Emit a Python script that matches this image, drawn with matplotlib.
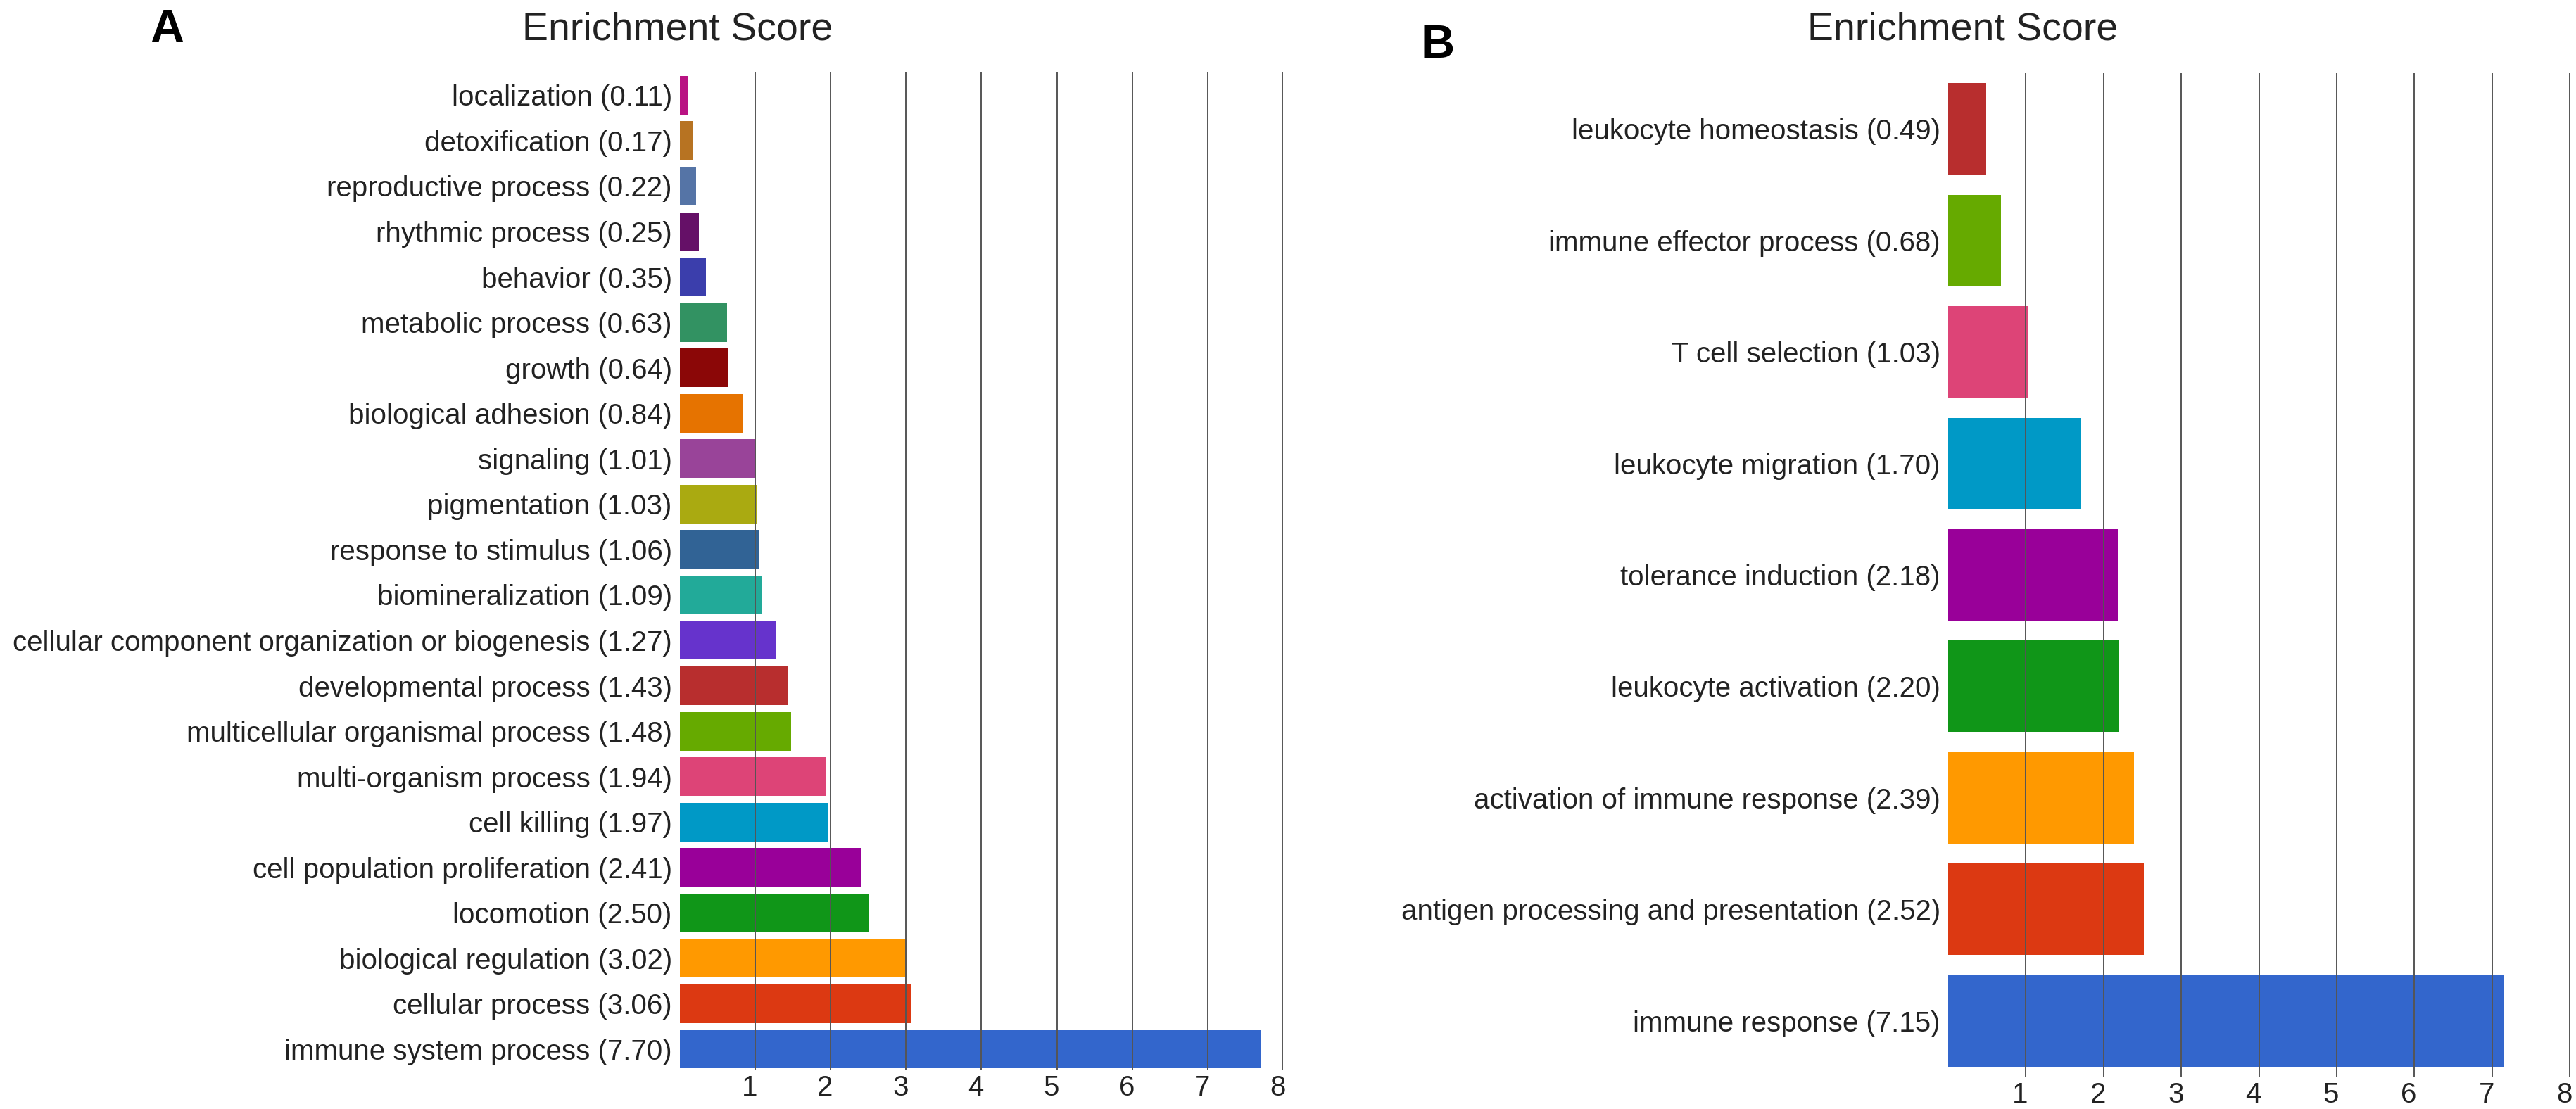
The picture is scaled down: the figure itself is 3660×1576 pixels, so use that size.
import matplotlib
matplotlib.use("Agg")
import matplotlib.pyplot as plt
import matplotlib.transforms as mtransforms

plt.rcParams['font.family'] = ['Liberation Sans', 'DejaVu Sans']

# panel A: GO biological process categories (top to bottom)
terms_a = [
    "localization", "detoxification", "reproductive process", "rhythmic process",
    "behavior", "metabolic process", "growth", "biological adhesion", "signaling",
    "pigmentation", "response to stimulus", "biomineralization",
    "cellular component organization or biogenesis", "developmental process",
    "multicellular organismal process", "multi-organism process", "cell killing",
    "cell population proliferation", "locomotion", "biological regulation",
    "cellular process", "immune system process",
]
scores_a = [0.11, 0.17, 0.22, 0.25, 0.35, 0.63, 0.64, 0.84, 1.01, 1.03, 1.06, 1.09,
            1.27, 1.43, 1.48, 1.94, 1.97, 2.41, 2.50, 3.02, 3.06, 7.70]
colors_a = ["#B91383", "#B77322", "#5574A6", "#651067", "#3B3EAC", "#329262",
            "#8B0707", "#E67300", "#994499", "#AAAA11", "#316395", "#22AA99",
            "#6633CC", "#B82E2E", "#66AA00", "#DD4477", "#0099C6", "#990099",
            "#109618", "#FF9900", "#DC3912", "#3366CC"]

# panel B: immune system process subcategories (top to bottom)
terms_b = [
    "leukocyte homeostasis", "immune effector process", "T cell selection",
    "leukocyte migration", "tolerance induction", "leukocyte activation",
    "activation of immune response", "antigen processing and presentation",
    "immune response",
]
scores_b = [0.49, 0.68, 1.03, 1.70, 2.18, 2.20, 2.39, 2.52, 7.15]
colors_b = ["#B82E2E", "#66AA00", "#DD4477", "#0099C6", "#990099", "#109618",
            "#FF9900", "#DC3912", "#3366CC"]

x_ticks = [1, 2, 3, 4, 5, 6, 7, 8]


def draw_panel(ax, terms, scores, colors, bar_h, ylim):
    n = len(terms)
    pos = [n - 1 - i for i in range(n)]
    ax.barh(pos, scores, height=bar_h, color=colors, zorder=1)
    # gridlines sit on top of the bars, as in the original
    for t in x_ticks:
        ax.axvline(t, color="#555555", lw=1.4, zorder=3)
    labels = [f"{t} ({s:.2f})" for t, s in zip(terms, scores)]
    ax.set_yticks(pos)
    ax.set_yticklabels(labels, fontsize=29, color="#222222")
    ax.set_xticks(x_ticks)
    ax.set_xticklabels([str(t) for t in x_ticks], fontsize=29, color="#222222")
    ax.tick_params(axis="both", length=0)
    ax.tick_params(axis="y", pad=8)
    ax.tick_params(axis="x", pad=5)
    # numbers sit a little left of their gridline
    shift = mtransforms.ScaledTranslation(-0.08, 0, ax.figure.dpi_scale_trans)
    for lab in ax.get_xticklabels():
        lab.set_transform(lab.get_transform() + shift)
    ax.set_xlim(0, 8)
    ax.set_ylim(*ylim)
    for sp in ax.spines.values():
        sp.set_visible(False)


fig = plt.figure(figsize=(36.6, 15.76), dpi=100)

ax_a = fig.add_axes([0.2639, 0.0355, 0.2342, 0.9346 - 0.0355])
draw_panel(ax_a, terms_a, scores_a, colors_a, 0.85, (-0.45, 21.5))

ax_b = fig.add_axes([0.7563, 0.0292, 0.2413, 0.934 - 0.0292])
draw_panel(ax_b, terms_b, scores_b, colors_b, 0.82, (-0.5, 8.5))

fig.text(0.263, 0.973, "Enrichment Score", fontsize=40, ha="center", va="center",
         color="#222222")
fig.text(0.762, 0.973, "Enrichment Score", fontsize=40, ha="center", va="center",
         color="#222222")
fig.text(0.0649, 0.973, "A", fontsize=48, fontweight="bold", ha="center", va="center")
fig.text(0.558, 0.959, "B", fontsize=48, fontweight="bold", ha="center", va="center")

fig.savefig("out.png", dpi=100)
